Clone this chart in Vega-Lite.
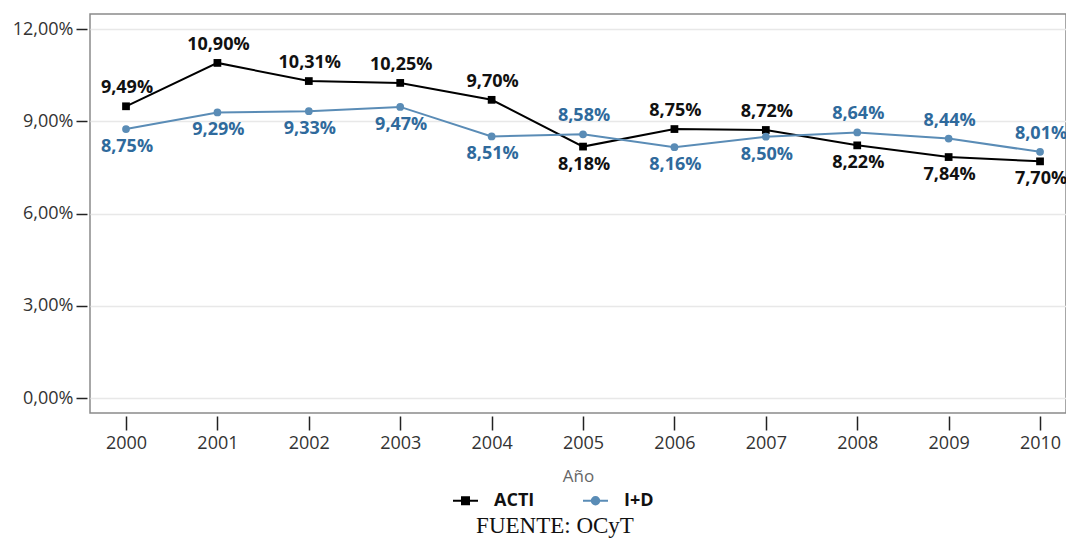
{
  "$schema": "https://vega.github.io/schema/vega-lite/v6.json",
  "width": 976,
  "height": 399,
  "autosize": {"type": "none"},
  "padding": {"left": 90, "top": 14, "right": 0, "bottom": 127},
  "background": "white",
  "config": {
    "locale": {"number": {"decimal": ",", "thousands": ".", "grouping": [3], "currency": ["", " €"]}},
    "font": "Open Sans",
    "view": {"stroke": "#8a8a8a", "strokeWidth": 1.5},
    "title": {"font": "Liberation Serif", "fontSize": 23, "fontWeight": "normal", "color": "#111"}
  },
  "title": {"text": "FUENTE: OCyT", "orient": "bottom", "anchor": "middle", "offset": 5, "dx": -23},
  "data": {
    "values": [
      {"anio": 2000, "serie": "ACTI", "valor": 0.0949},
      {"anio": 2001, "serie": "ACTI", "valor": 0.1090},
      {"anio": 2002, "serie": "ACTI", "valor": 0.1031},
      {"anio": 2003, "serie": "ACTI", "valor": 0.1025},
      {"anio": 2004, "serie": "ACTI", "valor": 0.0970},
      {"anio": 2005, "serie": "ACTI", "valor": 0.0818},
      {"anio": 2006, "serie": "ACTI", "valor": 0.0875},
      {"anio": 2007, "serie": "ACTI", "valor": 0.0872},
      {"anio": 2008, "serie": "ACTI", "valor": 0.0822},
      {"anio": 2009, "serie": "ACTI", "valor": 0.0784},
      {"anio": 2010, "serie": "ACTI", "valor": 0.0770},
      {"anio": 2000, "serie": "I+D", "valor": 0.0875},
      {"anio": 2001, "serie": "I+D", "valor": 0.0929},
      {"anio": 2002, "serie": "I+D", "valor": 0.0933},
      {"anio": 2003, "serie": "I+D", "valor": 0.0947},
      {"anio": 2004, "serie": "I+D", "valor": 0.0851},
      {"anio": 2005, "serie": "I+D", "valor": 0.0858},
      {"anio": 2006, "serie": "I+D", "valor": 0.0816},
      {"anio": 2007, "serie": "I+D", "valor": 0.0850},
      {"anio": 2008, "serie": "I+D", "valor": 0.0864},
      {"anio": 2009, "serie": "I+D", "valor": 0.0844},
      {"anio": 2010, "serie": "I+D", "valor": 0.0801}
    ]
  },
  "transform": [
    {"joinaggregate": [{"op": "max", "field": "valor", "as": "maxAnio"}], "groupby": ["anio"]},
    {"calculate": "datum.serie", "as": "serieMarca"}
  ],
  "encoding": {
    "x": {
      "field": "anio", "type": "quantitative",
      "scale": {"domain": [1999.606, 2010.284], "nice": false, "zero": false},
      "axis": {
        "values": [2000, 2001, 2002, 2003, 2004, 2005, 2006, 2007, 2008, 2009, 2010],
        "format": "d", "title": "Año", "grid": false, "domain": false,
        "offset": 3, "tickSize": 14, "tickColor": "#222", "tickWidth": 1.5,
        "labelFontSize": 18, "labelColor": "#333", "labelPadding": 4,
        "titleFontSize": 17, "titleFontWeight": "normal", "titleColor": "#666", "titlePadding": 16
      }
    },
    "y": {
      "field": "valor", "type": "quantitative",
      "scale": {"domain": [-0.0048, 0.1249], "nice": false, "zero": false},
      "axis": {
        "values": [0, 0.03, 0.06, 0.09, 0.12],
        "format": ".2%", "title": null, "domain": false,
        "offset": 3, "tickSize": 11, "tickColor": "#222", "tickWidth": 1.5,
        "labelFontSize": 18, "labelColor": "#333", "labelPadding": 3,
        "grid": true, "gridColor": "#e8e8e8", "gridWidth": 1.5
      }
    }
  },
  "resolve": {"scale": {"shape": "independent", "fill": "independent", "stroke": "independent"}, "legend": {"shape": "independent", "fill": "independent", "stroke": "independent"}},
  "layer": [
    {
      "mark": {"type": "line", "strokeWidth": 2},
      "encoding": {
        "color": {
          "field": "serie", "type": "nominal",
          "scale": {"domain": ["ACTI", "I+D"], "range": ["#000000", "#5a8cb6"]},
          "legend": null
        }
      }
    },
    {
      "mark": {"type": "point", "filled": true, "opacity": 1, "size": 60},
      "encoding": {
        "color": {"field": "serie", "type": "nominal", "legend": null},
        "shape": {"field": "serie", "type": "nominal", "scale": {"domain": ["ACTI", "I+D"], "range": ["square", "circle"]}, "legend": null}
      }
    },
    {
      "mark": {"type": "point", "filled": true, "opacity": 1, "size": 0, "strokeWidth": 0},
      "encoding": {
        "fill": {"field": "serieMarca", "type": "nominal", "scale": {"range": ["#000000", "#5a8cb6"]},
          "legend": {
            "title": null, "orient": "none", "direction": "horizontal",
            "legendX": 362, "legendY": 473, "padding": 0,
            "symbolSize": 625, "symbolStrokeWidth": 2, "symbolOpacity": 1, "symbolFillOpacity": 1,
            "labelFontSize": 18, "labelFontWeight": "bold", "labelColor": "#111",
            "columnPadding": 44, "labelOffset": 15
          }
        },
        "stroke": {"field": "serieMarca", "type": "nominal", "scale": {"range": ["#000000", "#5a8cb6"]}},
        "shape": {"field": "serieMarca", "type": "nominal", "scale": {"range": [
          "M-1,0H1M-0.28,-0.28H0.28V0.28H-0.28Z",
          "M-1,0H1M0.3,0A0.3,0.3 0 1,1 -0.3,0A0.3,0.3 0 1,1 0.3,0Z"
        ]}}
      }
    },
    {
      "transform": [{"filter": "datum.valor >= datum.maxAnio"}],
      "mark": {"type": "text", "dy": -18, "dx": 1, "fontSize": 18, "fontWeight": "bold"},
      "encoding": {
        "text": {"field": "valor", "type": "quantitative", "format": ".2%"},
        "color": {"condition": {"test": "datum.serie === 'ACTI'", "value": "#111111"}, "value": "#2f6a9c"}
      }
    },
    {
      "transform": [{"filter": "datum.valor < datum.maxAnio"}],
      "mark": {"type": "text", "dy": 18, "dx": 1, "fontSize": 18, "fontWeight": "bold"},
      "encoding": {
        "text": {"field": "valor", "type": "quantitative", "format": ".2%"},
        "color": {"condition": {"test": "datum.serie === 'ACTI'", "value": "#111111"}, "value": "#2f6a9c"}
      }
    }
  ]
}
